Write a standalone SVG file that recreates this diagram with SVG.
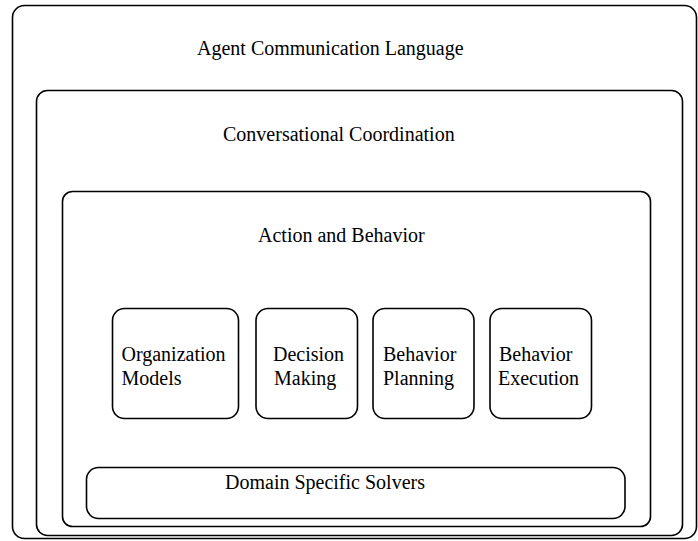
<svg xmlns="http://www.w3.org/2000/svg" width="698" height="541" viewBox="0 0 698 541">
<style>
.box{fill:none;stroke:#000;stroke-width:1.6}
text{font-family:"Liberation Serif","Times New Roman",serif;font-size:20px;fill:#000}
</style>
<rect width="698" height="541" fill="#fff"/>
<g id="agent-communication-language">
<rect class="box" x="12.5" y="5.5" width="684" height="533" rx="12"/>
<text x="197" y="55">Agent Communication Language</text>
</g>
<g id="conversational-coordination">
<rect class="box" x="36.5" y="90.5" width="646" height="445" rx="11"/>
<text x="223" y="141">Conversational Coordination</text>
</g>
<g id="action-and-behavior">
<rect class="box" x="62.5" y="191.5" width="588" height="335" rx="10"/>
<text x="258" y="242">Action and Behavior</text>
</g>
<g id="organization-models">
<rect class="box" x="112.5" y="308.5" width="126" height="110" rx="12"/>
<text x="121.5" y="360.5">Organization</text>
<text x="121.5" y="384.5">Models</text>
</g>
<g id="decision-making">
<rect class="box" x="256" y="308.5" width="101.5" height="110" rx="12"/>
<text x="273" y="360.5">Decision</text>
<text x="274" y="384.5">Making</text>
</g>
<g id="behavior-planning">
<rect class="box" x="373" y="308.5" width="101" height="110" rx="12"/>
<text x="383" y="360.5">Behavior</text>
<text x="383" y="384.5">Planning</text>
</g>
<g id="behavior-execution">
<rect class="box" x="490" y="308.5" width="101.5" height="110" rx="12"/>
<text x="499" y="360.5">Behavior</text>
<text x="498" y="384.5">Execution</text>
</g>
<g id="domain-specific-solvers">
<rect class="box" x="86.5" y="467.5" width="538.5" height="51" rx="12"/>
<text x="225" y="489">Domain Specific Solvers</text>
</g>
<g id="connectors"></g>
</svg>
